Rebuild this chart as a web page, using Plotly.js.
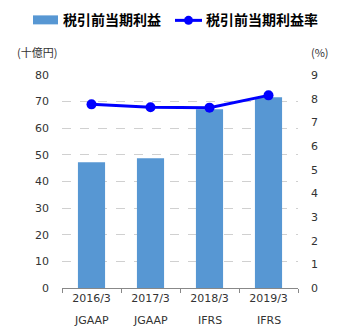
<!DOCTYPE html>
<html><head><meta charset="utf-8">
<script src="https://cdn.plot.ly/plotly-3.0.1.min.js"></script>
<style>body{margin:0;background:#fff}#c{width:345px;height:330px}</style>
</head><body><div id="c"></div>
<script>
const categories = ["2016/3", "2017/3", "2018/3", "2019/3"];
const standards = ["JGAAP", "JGAAP", "IFRS", "IFRS"];
const profit = [47.2, 48.7, 67.1, 71.6];
const margin = [7.76, 7.64, 7.62, 8.14];
const barName = "税引前当期利益";
const lineName = "税引前当期利益率";
const leftTicks = [0,10,20,30,40,50,60,70,80];
const rightTicks = [0,1,2,3,4,5,6,7,8,9];

const barColor = "#5797d3";
const lineColor = "#0000ff";
const tickFont = {family: "DejaVu Sans, Verdana, sans-serif", size: 11, color: "#333"};
const jpFont = "Noto Sans CJK JP, sans-serif";
const legFont = {family: jpFont, size: 14, color: "#000", weight: "bold"};

const traces = [
  {type: "bar", x: categories, y: profit, name: barName, width: 0.46,
   marker: {color: barColor, line: {width: 0}}, yaxis: "y"},
  {type: "scatter", mode: "lines+markers", x: categories, y: margin, name: lineName,
   line: {color: lineColor, width: 3}, marker: {color: lineColor, size: 10}, yaxis: "y2"}
];

const annotations = categories.map((c, i) => ({
  x: c, xref: "x", y: -0.152, yref: "paper", text: standards[i], showarrow: false,
  font: tickFont, yanchor: "middle"
}));
annotations.push({x: -0.2, xref: "paper", y: 1.107, yref: "paper", text: "(十億円)", showarrow: false,
  xanchor: "left", yanchor: "middle", font: {family: jpFont, size: 11, color: "#333"}});
annotations.push({x: 1.045, xref: "paper", y: 1.107, yref: "paper", text: "(%)", showarrow: false,
  xanchor: "left", yanchor: "middle", font: {family: jpFont, size: 11, color: "#333"}});
// manual legend text
annotations.push({x: -0.003, xref: "paper", y: 1.261, yref: "paper", text: barName, showarrow: false,
  xanchor: "left", yanchor: "middle", font: legFont});
annotations.push({x: 0.603, xref: "paper", y: 1.261, yref: "paper", text: lineName, showarrow: false,
  xanchor: "left", yanchor: "middle", font: legFont});

const shapes = [
  {type: "rect", xref: "paper", yref: "paper", x0: -0.1229, x1: -0.0169, y0: 1.2377, y1: 1.2799,
   fillcolor: barColor, line: {width: 0}},
  {type: "line", xref: "paper", yref: "paper", x0: 0.4788, x1: 0.5932, y0: 1.2565, y1: 1.2565,
   line: {color: lineColor, width: 3}},
  {type: "circle", xref: "paper", yref: "paper", xsizemode: "pixel", ysizemode: "pixel",
   xanchor: 0.536, yanchor: 1.2565, x0: -4.5, x1: 4.5, y0: -4.5, y1: 4.5,
   fillcolor: lineColor, line: {width: 0}}
];

const layout = {
  width: 345, height: 330,
  margin: {l: 62, r: 47, t: 75, b: 42},
  paper_bgcolor: "#fff", plot_bgcolor: "#fff",
  showlegend: false,
  xaxis: {type: "category", tickfont: tickFont, showgrid: false, showline: true,
    linecolor: "#888", linewidth: 1, ticks: "outside", tickson: "boundaries",
    ticklen: 4, tickcolor: "#888", zeroline: false, fixedrange: true},
  yaxis: {range: [0, 80], tickvals: leftTicks, tickfont: tickFont, showgrid: true,
    gridcolor: "#d0d0d0", griddash: "dash", gridwidth: 1, zeroline: false,
    showline: false, ticks: "", ticklabelstandoff: 12},
  yaxis2: {range: [0, 9], tickvals: rightTicks, tickfont: tickFont, overlaying: "y",
    side: "right", showgrid: false, zeroline: false, showline: false, ticks: "",
    ticklabelstandoff: 12},
  annotations: annotations,
  shapes: shapes
};
Plotly.newPlot("c", traces, layout, {displayModeBar: false, staticPlot: true});
</script></body></html>
